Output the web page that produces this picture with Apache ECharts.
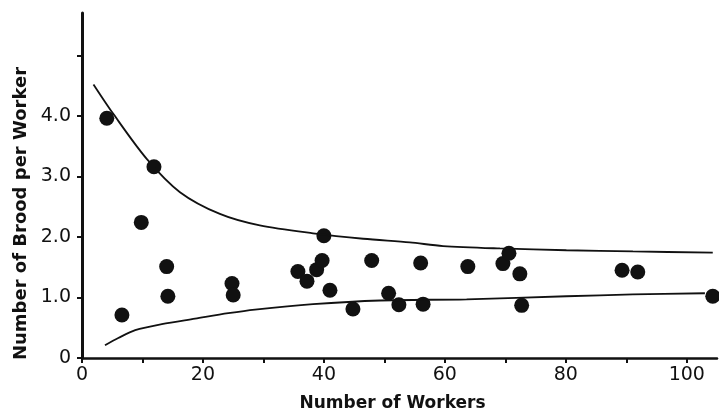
<!DOCTYPE html>
<html>
<head>
<meta charset="utf-8">
<script src="https://cdn.jsdelivr.net/npm/echarts@6/dist/echarts.min.js"></script>
<style>html,body{margin:0;padding:0;background:#fff;}#c{width:719px;height:417px;}</style>
</head>
<body>
<div id="c"></div>
<script>
// Observed colonies: [number of workers, brood per worker]
var workers = [4.1, 6.6, 9.8, 11.9, 14.0, 14.2, 24.8, 25.0, 35.7, 37.2, 38.8, 39.7, 40.0, 41.0, 44.8, 47.9, 50.7, 52.4, 56.0, 56.4, 63.8, 69.6, 70.6, 72.4, 72.7, 89.3, 91.9, 104.3];
var broodPerWorker = [3.96, 0.71, 2.24, 3.16, 1.51, 1.02, 1.23, 1.04, 1.43, 1.27, 1.46, 1.61, 2.02, 1.12, 0.81, 1.61, 1.07, 0.88, 1.57, 0.89, 1.51, 1.56, 1.73, 1.39, 0.87, 1.45, 1.42, 1.02];

// Upper envelope curve
var upperX = [1.9, 5.2, 10.7, 16.2, 22.8, 29.4, 38.2, 46.5, 54.2, 59.7, 69.1, 80.1, 91.1, 104.3];
var upperY = [4.52, 4.03, 3.29, 2.74, 2.38, 2.19, 2.06, 1.97, 1.91, 1.85, 1.81, 1.78, 1.76, 1.74];

// Lower envelope curve
var lowerX = [3.8, 6.0, 8.8, 13.2, 18.7, 24.2, 28.6, 38.2, 49.3, 63.6, 80.1, 91.1, 103.0];
var lowerY = [0.21, 0.33, 0.46, 0.56, 0.65, 0.74, 0.80, 0.89, 0.95, 0.97, 1.02, 1.05, 1.07];

var xTicks = [0, 10, 20, 30, 40, 50, 60, 70, 80, 90, 100];
var xLabels = [0, 20, 40, 60, 80, 100];
var yTicks = [0, 1, 2, 3, 4, 5];
var yLabels = [0, 1, 2, 3, 4];

function zip(a, b) { return a.map(function (v, i) { return [v, b[i]]; }); }

var chart = echarts.init(document.getElementById('c'), null, {renderer: 'canvas'});
var font = 'DejaVu Sans';
chart.setOption({
  animation: false,
  backgroundColor: '#fff',
  grid: {left: 82, right: 2, top: 13, bottom: 57},
  xAxis: {
    type: 'value', min: 0, max: 105,
    name: 'Number of Workers', nameLocation: 'middle', nameGap: 37,
    nameTextStyle: {fontFamily: font, fontWeight: 'bold', fontSize: 17, color: '#111', padding: [0, 14, 0, 0]},
    axisLine: {show: true, lineStyle: {color: '#111', width: 2.5}},
    axisTick: {show: true, inside: false, length: 5, customValues: xTicks, lineStyle: {color: '#111', width: 2}},
    axisLabel: {customValues: xLabels, margin: 8, fontFamily: font, fontSize: 19, color: '#111'},
    splitLine: {show: false}
  },
  yAxis: {
    type: 'value', min: 0, max: 5.7,
    name: 'Number of Brood per Worker', nameLocation: 'middle', nameGap: 52, nameRotate: 90,
    nameTextStyle: {fontFamily: font, fontWeight: 'bold', fontSize: 18, color: '#111', padding: [0, 56, 0, 0]},
    axisLine: {show: true, lineStyle: {color: '#111', width: 3}},
    axisTick: {show: true, inside: false, length: 5, customValues: yTicks, lineStyle: {color: '#111', width: 2}},
    axisLabel: {customValues: yLabels, margin: 11, fontFamily: font, fontSize: 19, color: '#111',
      formatter: function (v) { return v === 0 ? '0' : v.toFixed(1); }},
    splitLine: {show: false}
  },
  series: [
    {type: 'line', data: zip(upperX, upperY), smooth: 0.3, showSymbol: false,
      lineStyle: {color: '#111', width: 1.8}, silent: true},
    {type: 'line', data: zip(lowerX, lowerY), smooth: 0.3, showSymbol: false,
      lineStyle: {color: '#111', width: 1.8}, silent: true},
    {type: 'scatter', data: zip(workers, broodPerWorker), symbol: 'circle', symbolSize: 15,
      itemStyle: {color: '#111', opacity: 1}}
  ]
});
</script>
</body>
</html>
